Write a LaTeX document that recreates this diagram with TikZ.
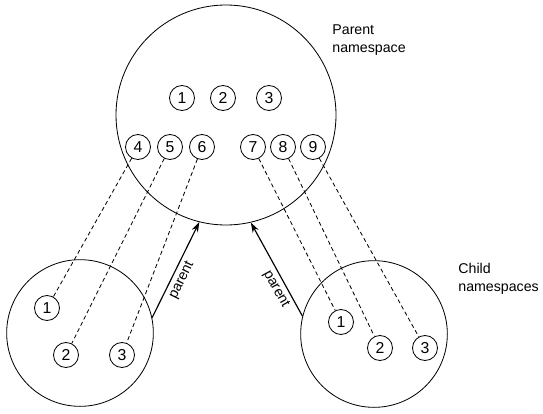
\documentclass[tikz,border=0pt]{standalone}
\usepackage{fontspec}
\setmainfont{Liberation Sans}
\usepackage{tikz}
\usetikzlibrary{arrows.meta,positioning}

\begin{document}
\begin{tikzpicture}[
  x=0.03cm, y=0.03cm,
  line width=0.7pt,
  nsbig/.style={draw, circle, minimum size=6.6cm, inner sep=0pt},
  nschild/.style={draw, circle, minimum size=4.4cm, inner sep=0pt},
  pid/.style={draw, circle, minimum size=0.75cm, inner sep=0pt, font=\fontsize{13.5}{15}\selectfont},
  lbl/.style={font=\fontsize{12.1}{15.3}\selectfont, align=left, inner sep=0pt},
  link/.style={dash pattern=on 3.5pt off 2.5pt},
  arr/.style={-{Stealth[length=3mm,width=2mm]}, line width=1pt}
]
  \useasboundingbox (0,0) rectangle (543,413);

  % parent namespace
  \node[nsbig] (pns) at (226,298) {};
  \node[pid] (p1) at (182,315) {1};
  \node[pid] (p2) at (223,315) {2};
  \node[pid] (p3) at (269,315) {3};
  \node[pid] (p4) at (138,266) {4};
  \node[pid] (p5) at (170,266) {5};
  \node[pid] (p6) at (202,266) {6};
  \node[pid] (p7) at (253,266) {7};
  \node[pid] (p8) at (283,266) {8};
  \node[pid] (p9) at (313,266) {9};
  \node[lbl, anchor=north west] (plbl) at (332,389) {Parent\\namespace};

  % child namespaces
  \node[nschild] (lns) at (80,80) {};
  \node[pid] (l1) at (47,105) {1};
  \node[pid] (l2) at (66,58) {2};
  \node[pid] (l3) at (122,58) {3};

  \node[nschild] (rns) at (374,79) {};
  \node[pid] (r1) at (341,91) {1};
  \node[pid] (r2) at (380,65) {2};
  \node[pid] (r3) at (425,65) {3};
  \node[lbl, anchor=north west] (clbl) at (458,150) {Child\\namespaces};

  % mappings
  \draw[link] (p4) -- (l1);
  \draw[link] (p5) -- (l2);
  \draw[link] (p6) -- (l3);
  \draw[link] (p7) -- (r1);
  \draw[link] (p8) -- (r2);
  \draw[link] (p9) -- (r3);

  \draw[arr] (lns.12.5) -- node[lbl, sloped, below=3pt, pos=0.44]{parent} (pns.256.7);
  \draw[arr] (rns.166.7) -- node[lbl, sloped, below=3pt, pos=0.34]{parent} (pns.283.8);
\end{tikzpicture}
\end{document}
